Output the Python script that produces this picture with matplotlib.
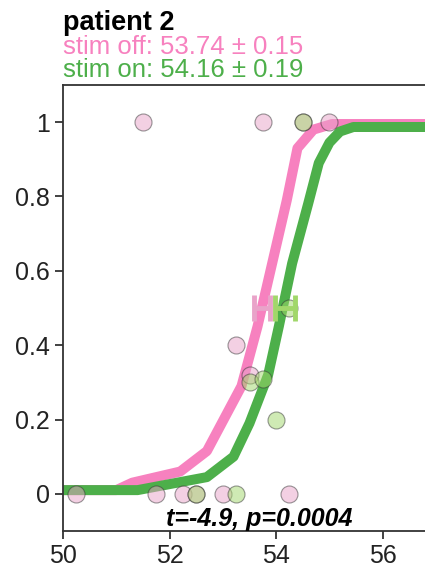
import matplotlib
matplotlib.use("Agg")
import matplotlib.pyplot as plt

plt.rcParams['font.family'] = ['Liberation Sans', 'DejaVu Sans']

# fitted curves
off_curve_x = [50.0, 51.0, 51.3, 52.2, 52.7, 53.35, 53.65, 54.2, 54.4, 54.7, 55.05, 57.0]
off_curve_y = [0.01, 0.01, 0.03, 0.06, 0.115, 0.29, 0.45, 0.79, 0.93, 0.98, 0.995, 0.995]
on_curve_x = [50.0, 51.4, 52.7, 53.2, 53.5, 53.85, 54.05, 54.3, 54.6, 54.8, 55.0, 55.2, 55.45, 57.0]
on_curve_y = [0.01, 0.01, 0.045, 0.1, 0.19, 0.32, 0.45, 0.62, 0.78, 0.89, 0.945, 0.975, 0.987, 0.987]

# raw data points
off_pts_x = [51.5, 53.75, 54.5, 55.0, 50.25, 51.75, 52.25, 52.5, 53.0, 54.25, 53.25, 53.5]
off_pts_y = [1, 1, 1, 1, 0, 0, 0, 0, 0, 0, 0.40, 0.32]
on_pts_x = [54.5, 52.5, 53.25, 53.5, 53.75, 54.0, 54.25]
on_pts_y = [1, 0, 0, 0.30, 0.31, 0.20, 0.50]

# thresholds
off_mu, off_se = 53.74, 0.15
on_mu, on_se = 54.16, 0.19

pink, green = '#f781bf', '#4daf4a'
pink_l, green_l = '#e9a3c9', '#a1d76a'

fig = plt.figure(figsize=(4.25, 5.71), dpi=100)
ax = fig.add_axes([63/425, 40/571, 373/425, 446/571])

ax.plot(off_curve_x, off_curve_y, color=pink, lw=7.2, solid_capstyle='butt', zorder=2)
ax.plot(on_curve_x, on_curve_y, color=green, lw=7.2, solid_capstyle='butt', zorder=2)

ax.scatter(off_pts_x, off_pts_y, s=150, facecolor=pink_l, edgecolor='#333333',
           alpha=0.5, linewidth=0.8, zorder=3)
ax.scatter(on_pts_x, on_pts_y, s=150, facecolor=green_l, edgecolor='#333333',
           alpha=0.5, linewidth=0.8, zorder=3)

ax.errorbar([off_mu], [0.5], xerr=[off_se], color=pink_l, lw=3.5, capsize=9.5,
            capthick=3.5, zorder=4)
ax.errorbar([on_mu], [0.5], xerr=[on_se], color=green_l, lw=3.5, capsize=9.5,
            capthick=3.5, zorder=4)

ax.set_xlim(50, 57)
ax.set_ylim(-0.1, 1.1)
ax.set_xticks([50, 52, 54, 56])
ax.set_yticks([0, 0.2, 0.4, 0.6, 0.8, 1])
ax.set_yticklabels(['0', '0.2', '0.4', '0.6', '0.8', '1'])
ax.tick_params(labelsize=18, length=6, width=1.3, color='#333333', labelcolor='#222222')
for s in ['left', 'bottom', 'top']:
    ax.spines[s].set_linewidth(1.3)
    ax.spines[s].set_color('#333333')
ax.spines['right'].set_visible(False)

ax.text((259 - 63) / 373, (531 - 526) / 446, 't=-4.9, p=0.0004', transform=ax.transAxes,
        ha='center', va='baseline', fontsize=18, fontweight='bold', fontstyle='italic',
        color='black')

fig.text(63/425, 1 - 30/571, 'patient 2', fontsize=19.5, fontweight='bold', color='black',
         ha='left', va='baseline')
fig.text(63/425, 1 - 54/571, 'stim off: 53.74 \u00b1 0.15', fontsize=18.5, color=pink,
         ha='left', va='baseline')
fig.text(63/425, 1 - 77/571, 'stim on: 54.16 \u00b1 0.19', fontsize=18.5, color=green,
         ha='left', va='baseline')

fig.savefig('out.png', dpi=100)
